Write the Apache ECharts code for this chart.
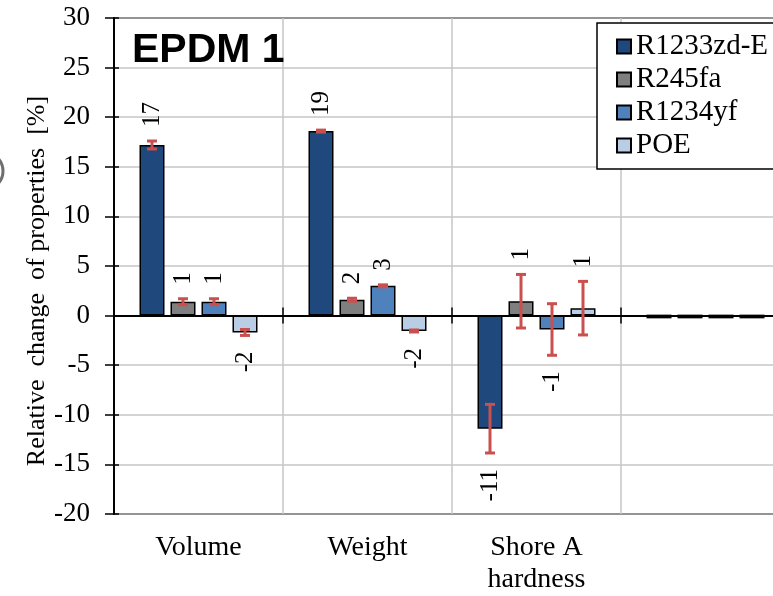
<!DOCTYPE html>
<html>
<head>
<meta charset="utf-8">
<script src="https://cdn.jsdelivr.net/npm/echarts@6/dist/echarts.min.js"></script>
<style>html,body{margin:0;padding:0;background:#fff;overflow:hidden;}#c{width:790px;height:596px;}</style>
</head>
<body>
<div id="c"></div>
<script>
const categories = ['Volume', 'Weight', 'Shore A\nhardness', ''];
const seriesNames = ['R1233zd-E', 'R245fa', 'R1234yf', 'POE'];
const r1233zdE = [17.2, 18.6, -11.4, 0];
const r245fa = [1.4, 1.6, 1.45, 0];
const r1234yf = [1.4, 3.0, -1.4, 0];
const poe = [-1.7, -1.55, 0.75, 0];
const errR1233zdE = [0.4, 0.1, 2.45, 0];
const errR245fa = [0.3, 0.15, 2.7, 0];
const errR1234yf = [0.3, 0.1, 2.6, 0];
const errPoe = [0.3, 0.1, 2.7, 0];
const yTicks = { min: -20, max: 30, interval: 5 };
const colors = ['#1F497D', '#7F7F7F', '#4F81BD', '#B9CDE5'];

const values = [r1233zdE, r245fa, r1234yf, poe];
const errors = [errR1233zdE, errR245fa, errR1234yf, errPoe];

const BAR_W = 25, BAR_GAP = 6;
const serif = 'Liberation Serif';

const errData = [];
values.forEach((arr, si) => arr.forEach((v, ci) => errData.push([ci, si, v, errors[si][ci]])));

const chart = echarts.init(document.getElementById('c'), null, { renderer: 'canvas' });

const barSeries = seriesNames.map((name, i) => ({
  name: name,
  type: 'bar',
  data: values[i],
  barWidth: BAR_W,
  barGap: (BAR_GAP / BAR_W * 100) + '%',
  itemStyle: { color: colors[i], borderColor: '#000', borderWidth: 1.5 },
  z: 2
}));

const option = {
  animation: false,
  backgroundColor: '#fff',
  title: {
    text: 'EPDM 1', left: 132, top: 30, padding: 0,
    textStyle: { fontFamily: 'Liberation Sans', fontSize: 41, fontWeight: 'bold', color: '#000' }
  },
  grid: { left: 114, top: 18, right: 0, height: 497, show: true, borderColor: '#000', borderWidth: 2, backgroundColor: 'transparent' },
  legend: {
    data: seriesNames, orient: 'vertical', left: 597, top: 23,
    padding: [9, 40, 9, 19], itemWidth: 14, itemHeight: 14, itemGap: 4,
    backgroundColor: '#fff', borderColor: '#000', borderWidth: 1.5,
    textStyle: { fontFamily: serif, fontSize: 29, color: '#000', lineHeight: 29, padding: [0, 0, 0, 0] },
    icon: 'rect', z: 10
  },
  xAxis: [
    {
      type: 'category', data: categories, position: 'bottom',
      axisLine: { onZero: true, lineStyle: { color: '#000', width: 2 } },
      axisTick: { show: true, length: 8, lineStyle: { color: '#000', width: 1.5 } },
      axisLabel: { show: false },
      splitLine: { show: true, lineStyle: { color: '#c6c6c6', width: 1.5 } }
    },
    {
      type: 'category', data: categories, position: 'bottom',
      axisLine: { onZero: true, show: false },
      axisTick: { show: true, inside: true, length: 8, lineStyle: { color: '#000', width: 1.5 } },
      axisLabel: { show: false }, splitLine: { show: false }
    },
    {
      type: 'category', data: categories, position: 'bottom',
      axisLine: { onZero: false, show: false },
      axisTick: { show: false },
      axisLabel: { show: true, margin: 18, fontFamily: serif, fontSize: 28, color: '#000', lineHeight: 32, interval: 0 },
      splitLine: { show: false }
    }
  ],
  yAxis: [
    {
      type: 'value', min: yTicks.min, max: yTicks.max, interval: yTicks.interval,
      axisLine: { show: true, lineStyle: { color: '#000', width: 2 } },
      axisTick: { show: true, length: 9, lineStyle: { color: '#000', width: 1.5 } },
      axisLabel: { margin: 24, fontFamily: serif, fontSize: 27, color: '#000' },
      splitLine: { show: true, lineStyle: { color: '#c6c6c6', width: 1.5 } }
    },
    {
      type: 'value', min: yTicks.min, max: yTicks.max, interval: yTicks.interval, position: 'left',
      axisLine: { show: false },
      axisTick: { show: true, inside: true, length: 5, lineStyle: { color: '#000', width: 1.5 } },
      axisLabel: { show: false }, splitLine: { show: false }
    }
  ],
  graphic: [
    {
      type: 'text', x: 37, y: 281, rotation: Math.PI / 2,
      style: { text: 'Relative  change  of properties  [%]', fontFamily: serif, fontSize: 26, fill: '#000', align: 'center', verticalAlign: 'middle' }
    },
    {
      type: 'circle', shape: { cx: -16, cy: 171, r: 19 },
      style: { fill: 'none', stroke: '#6e6e6e', lineWidth: 3 }
    }
  ],
  series: barSeries.concat([{
    type: 'custom',
    coordinateSystem: 'cartesian2d',
    data: errData,
    encode: { x: 0, y: 2 },
    z: 5,
    silent: true,
    renderItem: function (params, api) {
      const cat = api.value(0), si = api.value(1), v = api.value(2), e = api.value(3);
      const base = api.coord([cat, 0]);
      const cx = base[0] + (si - 1.5) * (BAR_W + BAR_GAP);
      const yT = api.coord([cat, v + e])[1];
      const yB = api.coord([cat, v - e])[1];
      const children = [];
      if (v !== 0) {
        const red = { stroke: '#C9504F', lineWidth: 3 };
        children.push({ type: 'line', shape: { x1: cx, y1: yT, x2: cx, y2: yB }, style: red });
        children.push({ type: 'line', shape: { x1: cx - 5, y1: yT, x2: cx + 5, y2: yT }, style: red });
        children.push({ type: 'line', shape: { x1: cx - 5, y1: yB, x2: cx + 5, y2: yB }, style: red });
        const txt = Number(v).toFixed(0);
        if (v > 0) {
          children.push({ type: 'text', x: cx, y: yT - 14, rotation: Math.PI / 2,
            style: { text: txt, fontFamily: serif, fontSize: 25, fill: '#000', align: 'left', verticalAlign: 'middle' } });
        } else {
          children.push({ type: 'text', x: cx, y: yB + 16, rotation: Math.PI / 2,
            style: { text: txt, fontFamily: serif, fontSize: 25, fill: '#000', align: 'right', verticalAlign: 'middle' } });
        }
      } else {
        // zero-height bar drawn as a thick outline dash
        children.push({ type: 'line', shape: { x1: cx - BAR_W / 2, y1: base[1] + 1, x2: cx + BAR_W / 2, y2: base[1] + 1 },
          style: { stroke: '#000', lineWidth: 3.5 } });
      }
      return { type: 'group', children: children };
    }
  }])
};
chart.setOption(option);
</script>
</body>
</html>
